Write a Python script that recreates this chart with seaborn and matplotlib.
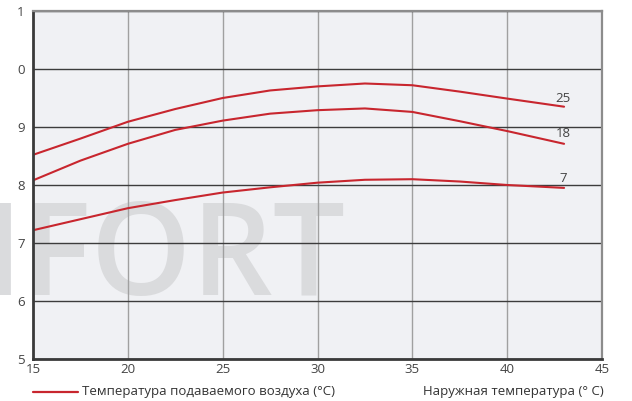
import numpy as np
import pandas as pd
import matplotlib.pyplot as plt
import seaborn as sns

# outdoor temperature (°C)
outdoor = [15, 17.5, 20, 22.5, 25, 27.5, 30, 32.5, 35, 37.5, 40, 43]

# supply air temperature curves
curve_25 = [8.52, 8.80, 9.09, 9.31, 9.50, 9.63, 9.70, 9.75, 9.72, 9.61, 9.49, 9.35]
curve_18 = [8.08, 8.42, 8.71, 8.95, 9.11, 9.23, 9.29, 9.32, 9.26, 9.10, 8.93, 8.71]
curve_7 = [7.22, 7.41, 7.60, 7.74, 7.87, 7.96, 8.04, 8.09, 8.10, 8.06, 8.00, 7.95]

curve_names = ['25', '18', '7']
label_y = [9.50, 8.88, 8.11]

y_ticks = [5, 6, 7, 8, 9, 10, 11]
y_tick_labels = ['5', '6', '7', '8', '9', '0', '1']
x_ticks = [15, 20, 25, 30, 35, 40, 45]

legend_text = 'Температура подаваемого воздуха (°C)'
xlabel_text = 'Наружная температура (° C)'
watermark = 'MFORT'

RED = '#c8262e'

df = pd.DataFrame({
    'outdoor': outdoor * 3,
    'supply': curve_25 + curve_18 + curve_7,
    'curve': sum([[n] * len(outdoor) for n in curve_names], []),
})

sns.set_style('white', {'axes.facecolor': '#f0f1f4', 'axes.axisbelow': True})
plt.rcParams['font.family'] = ['Open Sans', 'DejaVu Sans']

fig = plt.figure(figsize=(6.32, 4.01), dpi=100)
ax = fig.add_axes([33 / 632, 1 - 359 / 401, 569 / 632, 348 / 401])

sns.lineplot(data=df, x='outdoor', y='supply', hue='curve',
             palette=[RED] * 3, legend=False, linewidth=1.5, ax=ax)

# curve labels at the right end
for name, yv in zip(curve_names, label_y):
    ax.text(42.95, yv, name, ha='center', va='center', fontsize=9.5, color='#444444')

ax.set_xlim(15, 45)
ax.set_ylim(5, 11)
ax.set_xticks(x_ticks)
ax.set_yticks(y_ticks)
ax.set_yticklabels(y_tick_labels)
ax.set_xlabel('')
ax.set_ylabel('')

# grid: dark horizontals, grey verticals
ax.yaxis.grid(True, color='#3c3c3c', linewidth=1.0)
ax.xaxis.grid(True, color='#a0a0a0', linewidth=1.0)

ax.tick_params(axis='y', length=3, width=1, color='#333333', labelsize=9.5,
               labelcolor='#444444', pad=3)
ax.tick_params(axis='x', length=0, labelsize=9.5, labelcolor='#444444', pad=3)

for side in ['left', 'bottom']:
    ax.spines[side].set_color('#3a3a3a')
    ax.spines[side].set_linewidth(2)
for side in ['top', 'right']:
    ax.spines[side].set_color('#8c8c8c')
    ax.spines[side].set_linewidth(1.6)
    ax.spines[side].set_visible(True)

# faint background watermark, under the grid
ax.text(345 / 632, 1 - 295 / 401, watermark, transform=fig.transFigure,
        ha='right', va='baseline', fontsize=92, fontweight='semibold',
        color='#dadbdd', zorder=0.3, clip_on=False)

# legend line and texts below the axes
fig.add_artist(plt.Line2D([33 / 632, 78 / 632], [1 - 392 / 401, 1 - 392 / 401],
                          color=RED, linewidth=1.6))
fig.text(82 / 632, 1 - 392 / 401, legend_text, ha='left', va='center',
         fontsize=9.5, color='#333333')
fig.text(604 / 632, 1 - 392 / 401, xlabel_text, ha='right', va='center',
         fontsize=9.5, color='#333333')

fig.savefig('out.png', dpi=100)
